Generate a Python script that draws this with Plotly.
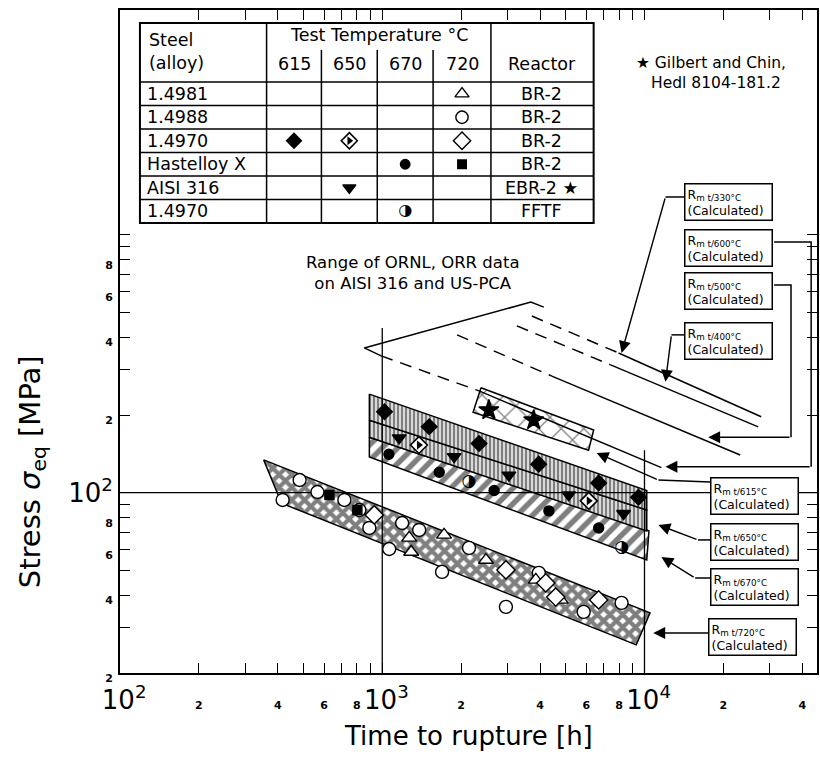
import numpy as np
import plotly.graph_objects as go

# ---------------- data: time to rupture [h], equivalent stress [MPa] ----------------
band720_t = [353, 10500, 9300, 413]
band720_s = [134, 34.2, 25.7, 91.0]
band615_t = [893, 10200, 10200, 893]
band615_s = [241, 102, 85.7, 191]
band650_t = [893, 10200, 10200, 893]
band650_s = [191, 85.7, 71.1, 164]
band670_t = [893, 10400, 10200, 893]
band670_s = [164, 71.1, 54.8, 137.5]
bandEBR_t = [2380, 6400, 6120, 2220]
bandEBR_s = [255, 175, 146, 205]

circ720_t = [417, 484, 566, 717, 818, 893, 1063, 1191, 1383, 1691, 2142, 2962, 3954, 5861, 8177]
circ720_s = [93.7, 112, 100.6, 93.7, 85.7, 73.0, 60.5, 76.3, 71.7, 49.3, 61.1, 36.1, 48.9, 34.5, 37.4]
tri720_t = [1267, 1289, 1721, 2486, 3851, 4794]
tri720_s = [66.8, 58.9, 68.6, 54.8, 45.9, 38.4]
dia720_t = [932, 2962, 4204, 4587, 6687]
dia720_s = [82.0, 50.2, 44.7, 39.4, 38.4]
sq720_t = [629, 804]
sq720_s = [98.0, 85.7]
dia615_t = [1020, 1510, 2340, 3950, 6690, 9490]
dia615_s = [206, 180, 155, 129, 109, 96]
tdn650_t = [1160, 1880, 3040, 5140, 8320]
tdn650_s = [163, 138, 117, 98, 83]
hdia650_t = [1380, 6130]
hdia650_s = [153, 93]
dot670_t = [1060, 1650, 2670, 4320, 6690]
dot670_s = [141, 120, 102, 85, 73]
hcirc670_t = [2140, 8180]
hcirc670_s = [110, 61]
star_t = [2550, 3780]
star_s = [209, 191]

# calculated lines R_m t/T (dashed part, solid part)
calc_labels = ["330", "400", "500", "600"]
calc_dash_t = [[3718, 7963], [3261, 7426], [1929, 4430], [991, 2338]]
calc_dash_s = [[484, 348], [443, 313], [409, 283], [339, 248]]
calc_solid_t = [[7963, 27860], [7426, 27140], [4430, 23170], [2338, 11600]]
calc_solid_s = [[348, 197], [313, 180], [283, 140], [248, 125]]
ornl_t = [991, 854, 3686, 4130]
ornl_s = [339, 364, 548, 524]

# reference lines
vline_t = [1000, 10000]
vline_top_s = [435, 146]
hline_s = 100

# label leaders: path to arrow tail, arrow tip
lead_labels = ["330", "400", "500", "600", "615", "650", "670", "720"]
lead_path_t = [[14200, 12020], [14200, 12670], [31200, 36200, 36200], [31200, 43200, 43200],
               [17800, 11300], [17800, 16000], [17800, 15600], [17800]]
lead_path_s = [[1400, 1400], [409, 409], [638, 638, 164], [937, 937, 126],
               [110, 112], [65.6, 65.6], [46.7, 46.7], [28.6]]
tip_t = [8180, 12020, 17500, 12020, 6570, 11300, 11600, 10800]
tip_s = [348, 269, 164, 126, 142.5, 75, 56.3, 28.6]

# table
table_rows = ["1.4981", "1.4988", "1.4970", "Hastelloy X", "AISI 316", "1.4970"]
table_temps = ["615", "650", "670", "720"]
table_reactor = ["BR-2", "BR-2", "BR-2", "BR-2", "EBR-2 ★", "FFTF"]
table_symbols = [[None, None, None, "tri-open"],
                 [None, None, None, "circle-open"],
                 ["diamond", "half-diamond", None, "diamond-open"],
                 [None, None, "circle", "square"],
                 [None, "tri-down", None, None],
                 [None, None, "half-circle", None]]

FONT = "DejaVu Sans"
fig = go.Figure()


def band(t, s, shape, size, solidity):
    fig.add_trace(go.Scatter(
        x=t + [t[0]], y=s + [s[0]], mode="lines", fill="toself", fillcolor="white",
        fillpattern=dict(shape=shape, fgcolor="black", bgcolor="white", size=size, solidity=solidity),
        line=dict(color="black", width=1.5), hoverinfo="skip", showlegend=False))


def line(t, s, width=1.5, dash="solid"):
    fig.add_trace(go.Scatter(x=t, y=s, mode="lines", line=dict(color="black", width=width, dash=dash),
                             hoverinfo="skip", showlegend=False))


def symbol(kind, xs, ys, xaxis="x", yaxis="y", k=1.0):
    common = dict(mode="markers", hoverinfo="skip", showlegend=False, xaxis=xaxis, yaxis=yaxis)
    styles = {
        "tri-open": ("triangle-up", 13, "white"),
        "circle-open": ("circle", 13, "white"),
        "diamond-open": ("diamond", 14, "white"),
        "diamond": ("diamond", 12, "black"),
        "circle": ("circle", 10, "black"),
        "square": ("square", 9, "black"),
        "tri-down": ("triangle-down", 12, "black"),
        "star": ("star", 15, "black"),
    }
    if kind == "half-circle":
        fig.add_trace(go.Scatter(x=xs, y=ys, mode="text", text=["◑"] * len(xs),
                                 textfont=dict(family=FONT, size=17 * k, color="black"),
                                 hoverinfo="skip", showlegend=False, xaxis=xaxis, yaxis=yaxis))
        return
    if kind == "half-diamond":
        fig.add_trace(go.Scatter(x=xs, y=ys, marker=dict(symbol="diamond", size=13 * k, color="white",
                                                         line=dict(color="black", width=1.6)), **common))
        fig.add_trace(go.Scatter(x=xs, y=ys, marker=dict(symbol="triangle-right", size=8 * k, color="black",
                                                         line=dict(width=0)), **common))
        return
    sym, size, col = styles[kind]
    fig.add_trace(go.Scatter(x=xs, y=ys, marker=dict(symbol=sym, size=size * k, color=col,
                                                     line=dict(color="black", width=1.4)), **common))


# bands
band(band720_t, band720_s, "x", 9, 0.72)
band(band670_t, band670_s, "/", 11, 0.5)
band(band650_t, band650_s, "|", 4, 0.65)
band(band615_t, band615_s, "|", 4, 0.65)
band(bandEBR_t, bandEBR_s, "x", 16, 0.15)

# reference lines
for t, stop in zip(vline_t, vline_top_s):
    line([t, t], [stop, 20], width=1.3)
line([10 ** 2.0, 10 ** 4.66], [hline_s, hline_s], width=1.3)

# range of ORNL data and calculated lines
line(ornl_t, ornl_s, width=1.5)
for dt, ds, st, ss in zip(calc_dash_t, calc_dash_s, calc_solid_t, calc_solid_s):
    line(dt, ds, width=1.5, dash="12px,8px")
    line(st, ss, width=1.5)
for pt, ps in zip(lead_path_t, lead_path_s):
    if len(pt) > 1:
        line(pt, ps, width=1.5)

# data points
symbol("circle-open", circ720_t, circ720_s)
symbol("tri-open", tri720_t, tri720_s)
symbol("diamond-open", dia720_t, dia720_s)
symbol("square", sq720_t, sq720_s)
symbol("diamond", dia615_t, dia615_s)
symbol("tri-down", tdn650_t, tdn650_s)
symbol("half-diamond", hdia650_t, hdia650_s)
symbol("circle", dot670_t, dot670_s)
symbol("half-circle", hcirc670_t, hcirc670_s)
symbol("star", star_t, star_s)

annotations = []
# arrows
for pt, ps, tx, ts in zip(lead_path_t, lead_path_s, tip_t, tip_s):
    annotations.append(dict(x=np.log10(tx), y=np.log10(ts), ax=np.log10(pt[-1]), ay=np.log10(ps[-1]),
                            xref="x", yref="y", axref="x", ayref="y", text="", showarrow=True,
                            arrowhead=2, arrowsize=1.7, arrowwidth=1.4, arrowcolor="black", standoff=0))

# ---------------- layout in pixel space (overlay axes x2/y2) ----------------
box_pos = {"330": (686, 183), "400": (686, 322), "500": (686, 272), "600": (686, 229),
           "615": (712, 477), "650": (712, 523), "670": (712, 568), "720": (710, 618)}
for lab in lead_labels:
    bx, by = box_pos[lab]
    annotations.append(dict(x=bx, y=by, xref="x2", yref="y2", xanchor="left", yanchor="top",
                            text=f"R<sub>m t/{lab}°C</sub><br>(Calculated)", showarrow=False, align="left",
                            font=dict(family=FONT, size=12.5, color="black"), bgcolor="white",
                            bordercolor="black", borderwidth=1.5, borderpad=2, width=82))

shapes = []
TL, TR, TT, TB, HB = 140, 595, 23, 223, 82
col_edges = [267, 322, 378, 434, 492]
row_edges = [HB + i * (TB - HB) / 6 for i in range(7)]
shapes.append(dict(type="rect", xref="x2", yref="y2", x0=TL, x1=TR, y0=TT, y1=TB,
                   line=dict(color="black", width=2), fillcolor="white", layer="below"))
for cx in col_edges:
    top = TT if cx in (267, 492) else 50
    shapes.append(dict(type="line", xref="x2", yref="y2", x0=cx, x1=cx, y0=top, y1=TB,
                       line=dict(color="black", width=1.5), layer="below"))
for ry in row_edges[:-1]:
    shapes.append(dict(type="line", xref="x2", yref="y2", x0=TL, x1=TR, y0=ry, y1=ry,
                       line=dict(color="black", width=1.5), layer="below"))

col_centers = [(col_edges[i] + col_edges[i + 1]) / 2 for i in range(4)]
row_centers = [(row_edges[i] + row_edges[i + 1]) / 2 for i in range(6)]
tf = dict(family=FONT, size=17.5, color="black")


def txt(x, y, s, xanchor="center", size=None):
    f = dict(tf)
    if size:
        f["size"] = size
    annotations.append(dict(x=x, y=y, xref="x2", yref="y2", text=s, showarrow=False,
                            xanchor=xanchor, yanchor="middle", font=f))


txt(147, 40, "Steel", "left")
txt(147, 63, "(alloy)", "left")
txt((267 + 492) / 2, 35, "Test Temperature °C")
for cx, tlab in zip(col_centers, table_temps):
    txt(cx, 64, tlab)
txt(543, 64, "Reactor")
for ry, rlab, rea in zip(row_centers, table_rows, table_reactor):
    txt(145, ry, rlab, "left")
    txt(543, ry, rea)
for i, row in enumerate(table_symbols):
    for j, kind in enumerate(row):
        if kind:
            symbol(kind, [col_centers[j]], [row_centers[i]], xaxis="x2", yaxis="y2", k=0.95)

annotations.append(dict(x=713, y=73, xref="x2", yref="y2", showarrow=False, align="center",
                        text="★ Gilbert and Chin,<br>  Hedl 8104-181.2",
                        font=dict(family=FONT, size=15.5, color="black")))
annotations.append(dict(x=414, y=273, xref="x2", yref="y2", showarrow=False, align="center",
                        text="Range of ORNL, ORR data<br>on AISI 316 and US-PCA",
                        font=dict(family=FONT, size=16.5, color="black")))

# axis titles (paper coordinates)
annotations.append(dict(x=(470 - 120) / 699, y=(673 - 736) / 663, xref="paper", yref="paper",
                        showarrow=False, xanchor="center", yanchor="middle",
                        text="Time to rupture [h]", font=dict(family=FONT, size=26, color="black")))
annotations.append(dict(x=(32 - 120) / 699, y=(673 - 472) / 663, xref="paper", yref="paper",
                        showarrow=False, textangle=-90, xanchor="center", yanchor="middle",
                        text="Stress <i>σ</i><sub>eq</sub> [MPa]",
                        font=dict(family=FONT, size=29, color="black")))


# ---------------- ticks ----------------
def tick_label(v, hide=(), lead=""):
    e = int(np.floor(np.log10(v) + 1e-9))
    m = int(round(v / 10 ** e))
    if v in hide:
        return ""
    if m == 1:
        return f"{lead}10<sup>{e}</sup>"
    if m in (2, 4, 6, 8):
        return f"<span style='font-size:11px'><b>{m}</b></span>"
    return ""


x_ticks = [m * 10 ** e for e in (2, 3, 4) for m in range(1, 10) if m * 10 ** e <= 40000]
y_ticks = [m * 10 ** e for e in (1, 2) for m in range(1, 10) if m * 10 ** e >= 20] + [1000]

axis_common = dict(type="log", ticks="inside", ticklen=10, tickwidth=1.3, tickcolor="black",
                   showline=True, linecolor="black", linewidth=2, mirror="allticks",
                   showgrid=False, zeroline=False, tickangle=0,
                   tickfont=dict(family=FONT, size=26, color="black"))

fig.update_layout(
    width=820, height=758, margin=dict(l=120, r=1, t=10, b=85),
    paper_bgcolor="white", plot_bgcolor="white", showlegend=False,
    xaxis=dict(range=[2.0, 2.0 + 699 / 263], tickvals=x_ticks, ticklabelstandoff=3,
               ticktext=[tick_label(v, lead="\u00a0") for v in x_ticks], **axis_common),
    yaxis=dict(range=[np.log10(20), 2 + 482.7 / 258], tickvals=y_ticks,
               ticktext=[tick_label(v, hide=(1000,)) for v in y_ticks], **axis_common),
    xaxis2=dict(overlaying="x", range=[120, 819], visible=False),
    yaxis2=dict(overlaying="y", range=[673, 10], visible=False),
    annotations=annotations, shapes=shapes,
)

fig.write_html("out.html")
